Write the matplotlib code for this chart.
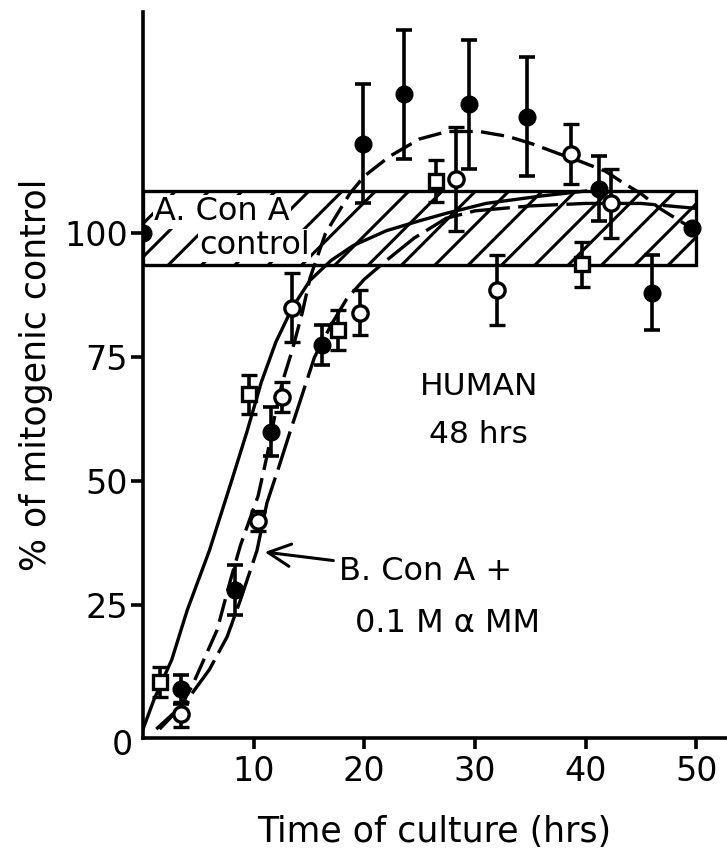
import numpy as np
import matplotlib
matplotlib.use("Agg")
import matplotlib.pyplot as plt
from matplotlib.patches import Rectangle

plt.rcParams["font.family"] = "DejaVu Sans"
plt.rcParams["hatch.linewidth"] = 2.2

# Con A control band (percent of mitogenic control)
band_x = [0, 50]
band_y = [93.5, 108.5]

# filled circles
fill_x = [0, 3.4, 8.3, 11.6, 16.2, 19.9, 23.6, 29.5, 34.7, 41.2, 46.0, 49.6]
fill_y = [100, 8, 28, 60, 77.5, 118, 128, 126, 123.5, 109, 88, 101]
fill_err = [0, 3, 5, 5, 4, 12, 13, 13, 12, 6.5, 7.5, 0]

# open circles
open_x = [3.4, 10.4, 12.6, 13.5, 19.6, 28.3, 32.0, 38.7, 42.3]
open_y = [3, 42, 67, 85, 84, 111, 88.5, 116, 106]
open_err = [2.5, 2, 3, 7, 4.5, 10.5, 7, 6, 7]

# open squares
sq_x = [1.5, 9.6, 17.6, 26.5, 39.7]
sq_y = [9.5, 67.5, 80.5, 110.5, 93.7]
sq_err = [3, 4, 4, 4.3, 4.5]

# fitted curves
curve_a_x = [0, 1, 2.6, 4, 6, 8, 9.4, 10.7, 12, 13.5, 15.1, 17, 19, 22, 25, 27.4, 31, 36, 40]
curve_a_y = [0, 6, 14, 24, 36, 50, 60, 70, 78, 85, 90.5, 94.5, 97.5, 100.5, 102.5, 104, 106, 107.5, 108.5]

curve_b_x = [1.2, 3.4, 4.5, 6.7, 7.9, 8.8, 10.4, 11.2, 11.9, 12.6, 13.5, 14.4, 15.1, 16.5, 18.7, 20,
             22.3, 25, 27.5, 30.4, 33, 35.2, 37.6, 39.5, 41.8, 43.5, 45, 46.7, 48.5, 49.6]
curve_b_y = [0, 4.5, 9, 20, 30, 37, 47, 55, 63, 70, 76.5, 84, 91, 100, 108, 111.5,
             115.5, 119, 120.5, 120.5, 119.5, 118, 116, 114.5, 112.5, 110, 108, 105, 102.5, 101]

curve_c_x = [1.5, 3, 4.2, 6, 7.6, 8.8, 10.3, 11.2, 12.3, 13.3, 14.4, 15.5, 17, 18.4, 20, 22, 24.5,
             27.4, 30, 35, 40, 45, 50]
curve_c_y = [0, 3.5, 6.5, 12, 18.6, 26, 36, 45.6, 53, 60, 67.5, 75, 81.5, 86.7, 90.7, 94.5, 99,
             103, 104.5, 105.5, 106, 106, 105]

fig = plt.figure(figsize=(7.27, 8.63), dpi=100)
ax = fig.add_axes([0.1967, 0.1448, 0.8020, 0.8413])
ax.set_xlim(0, 52.7)
ax.set_ylim(-1.8, 144.6)

lw = 2.4
ax.add_patch(Rectangle((band_x[0], band_y[0]), band_x[1] - band_x[0], band_y[1] - band_y[0],
                       facecolor="none", edgecolor="black", hatch="/", lw=lw, zorder=1))

ax.plot(curve_a_x, curve_a_y, color="black", lw=lw, zorder=2)
ax.plot(curve_b_x, curve_b_y, color="black", lw=lw, dashes=(7, 2.5), zorder=2)
ax.plot(curve_c_x, curve_c_y, color="black", lw=lw, dashes=(12, 2.5), zorder=2)

ebkw = dict(ls="none", ecolor="black", elinewidth=2.6, capsize=6, capthick=2.6, zorder=4)
ax.errorbar(fill_x, fill_y, yerr=fill_err, fmt="o", ms=12, mfc="black", mec="black", **ebkw)
ax.errorbar(open_x, open_y, yerr=open_err, fmt="o", ms=11, mfc="white", mec="black", mew=2.4, **ebkw)
ax.errorbar(sq_x, sq_y, yerr=sq_err, fmt="s", ms=10, mfc="white", mec="black", mew=2.4, **ebkw)

box = dict(facecolor="white", edgecolor="none", pad=1.0)
ax.text(1.0, 104.3, "A. Con A", fontsize=23, ha="left", va="center", bbox=box, zorder=3)
ax.text(5.1, 97.5, "control", fontsize=23, ha="left", va="center", bbox=box, zorder=3)

ax.annotate("B. Con A +", xy=(11.0, 35.7), xytext=(17.7, 31.7), fontsize=23,
            ha="left", va="center",
            arrowprops=dict(arrowstyle="->,head_length=0.7,head_width=0.35", lw=2.2,
                            color="black", shrinkA=2, shrinkB=0))
ax.text(19.2, 21.3, "0.1 M α MM", fontsize=23, ha="left", va="center")
ax.text(30.4, 69, "HUMAN", fontsize=22.5, ha="center", va="center")
ax.text(30.3, 59.5, "48 hrs", fontsize=22.5, ha="center", va="center")

for s in ["top", "right"]:
    ax.spines[s].set_visible(False)
for s in ["left", "bottom"]:
    ax.spines[s].set_linewidth(2.6)

ax.set_xticks([10, 20, 30, 40, 50])
ax.set_xticklabels(["10", "20", "30", "40", "50"])
ax.set_yticks([25, 50, 75, 100])
ax.set_yticklabels(["25", "50", "75", "100"])
ax.tick_params(axis="both", direction="out", width=2.6, labelsize=24)
ax.tick_params(axis="x", length=8, pad=4)
ax.tick_params(axis="y", length=9, pad=2)
ax.text(-0.9, -3.4, "0", fontsize=24, ha="right", va="center")

ax.set_xlabel("Time of culture (hrs)", fontsize=25, labelpad=20)
ax.set_ylabel("% of mitogenic control", fontsize=25, labelpad=8)

fig.savefig("out.png", dpi=100)
